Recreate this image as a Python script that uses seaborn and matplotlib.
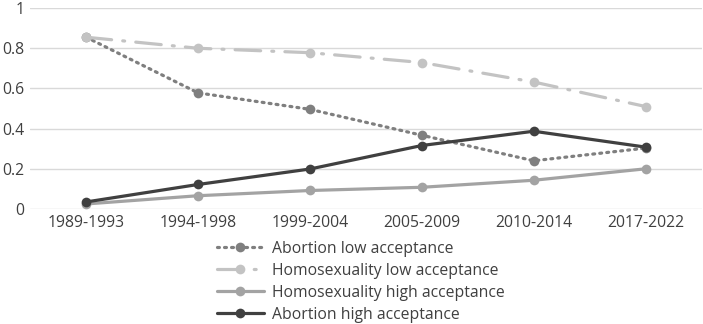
import numpy as np
import pandas as pd
import matplotlib
matplotlib.use("Agg")
import matplotlib.pyplot as plt
import seaborn as sns

# ─────────────────────────────────────────────
# Data
# ─────────────────────────────────────────────
periods = ["1989-1993", "1994-1998", "1999-2004", "2005-2009", "2010-2014", "2017-2022"]
abortion_low = [0.855, 0.578, 0.496, 0.367, 0.240, 0.303]
homosex_low = [0.855, 0.800, 0.778, 0.729, 0.632, 0.510]
homosex_high = [0.025, 0.066, 0.092, 0.108, 0.143, 0.200]
abortion_high = [0.035, 0.122, 0.199, 0.316, 0.387, 0.308]

series_names = [
    "Abortion low acceptance",
    "Homosexuality low acceptance",
    "Homosexuality high acceptance",
    "Abortion high acceptance",
]
series_values = [abortion_low, homosex_low, homosex_high, abortion_high]

df = pd.DataFrame(
    [(p, name, v) for name, vals in zip(series_names, series_values) for p, v in zip(periods, vals)],
    columns=["period", "series", "value"],
)

colors = {
    series_names[0]: "#7f7f7f",
    series_names[1]: "#c3c3c3",
    series_names[2]: "#a3a3a3",
    series_names[3]: "#404040",
}
dashes = {
    series_names[0]: (0.6, 1.6),
    series_names[1]: (8, 3.5, 0.6, 3.5),
    series_names[2]: "",
    series_names[3]: "",
}

# ─────────────────────────────────────────────
# Plot
# ─────────────────────────────────────────────
sns.set_theme(style="white")
plt.rcParams["font.family"] = ["Open Sans", "DejaVu Sans"]

fig = plt.figure(figsize=(7.03, 3.24), dpi=100)
ax = fig.add_axes([0.043, 0.355, 0.955, 0.62])

sns.lineplot(
    data=df, x="period", y="value", hue="series", style="series",
    palette=colors, dashes=dashes, markers={n: "o" for n in series_names},
    linewidth=2.3, markersize=7, markeredgewidth=0, ax=ax, legend=True,
    sort=False,
)
for line in ax.lines:
    line.set_dash_capstyle("round")
    line.set_solid_capstyle("round")

ax.set_xlim(-0.5, 5.5)
ax.set_ylim(0, 1)
ax.set_yticks([0, 0.2, 0.4, 0.6, 0.8, 1.0])
ax.set_yticklabels(["0", "0.2", "0.4", "0.6", "0.8", "1"])
ax.yaxis.grid(True, color="#d9d9d9", linewidth=1)
ax.set_axisbelow(True)
for s in ax.spines.values():
    s.set_visible(False)
ax.tick_params(axis="both", length=0, labelsize=11.3, colors="#404040", pad=4)
ax.set_xlabel("")
ax.set_ylabel("")

handles, labels = ax.get_legend_handles_labels()
ax.get_legend().remove()
fig.legend(
    handles, labels, loc="upper center", bbox_to_anchor=(0.513, 0.295),
    frameon=False, fontsize=11.3, labelspacing=0.38, handlelength=3.0,
    handletextpad=0.5, labelcolor="#404040", borderpad=0.3,
)

plt.savefig("out.png", dpi=100)
plt.close()
